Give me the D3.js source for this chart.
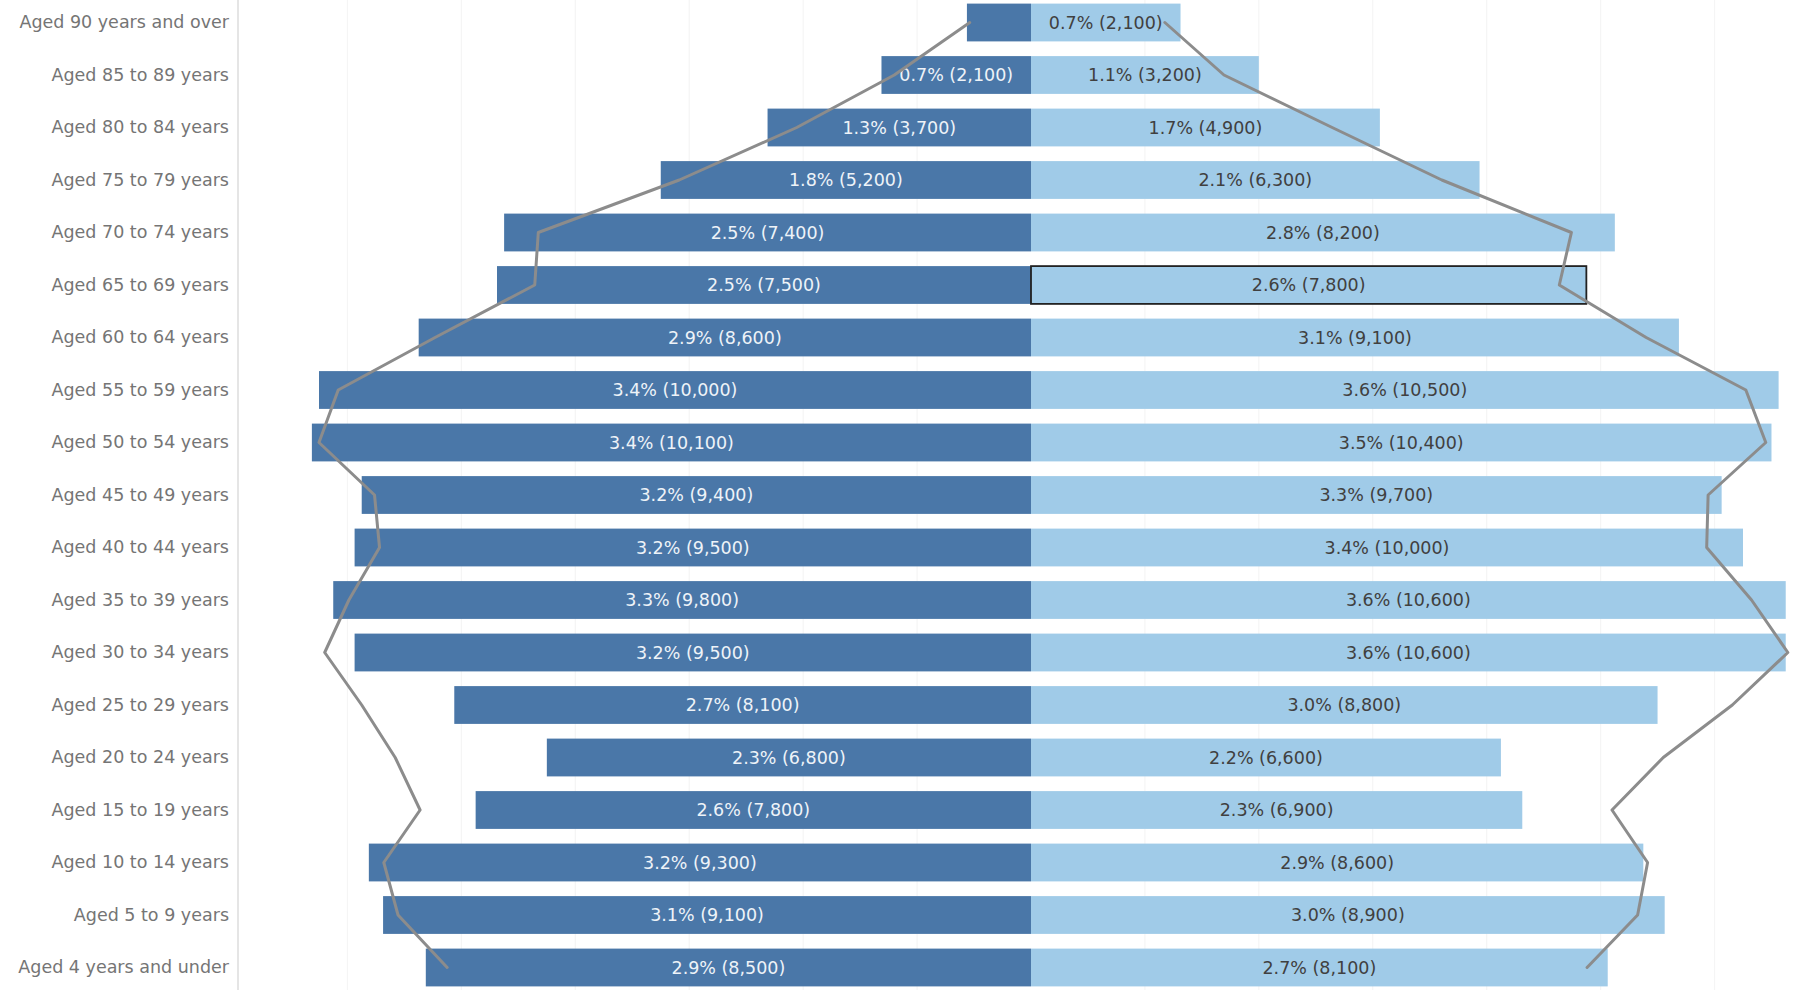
<!DOCTYPE html>
<html>
<head>
<meta charset="utf-8">
<script src="https://cdn.jsdelivr.net/npm/d3@7"></script>
<style>
  html, body { margin: 0; padding: 0; background: #ffffff; }
  svg { display: block; }
</style>
</head>
<body>
<svg id="chart" width="1806" height="990"></svg>
<script>
// ---------------- DATA ----------------
const ageGroups = [
  "Aged 90 years and over", "Aged 85 to 89 years", "Aged 80 to 84 years",
  "Aged 75 to 79 years", "Aged 70 to 74 years", "Aged 65 to 69 years",
  "Aged 60 to 64 years", "Aged 55 to 59 years", "Aged 50 to 54 years",
  "Aged 45 to 49 years", "Aged 40 to 44 years", "Aged 35 to 39 years",
  "Aged 30 to 34 years", "Aged 25 to 29 years", "Aged 20 to 24 years",
  "Aged 15 to 19 years", "Aged 10 to 14 years", "Aged 5 to 9 years",
  "Aged 4 years and under"
];
const malePct     = [0.3, 0.7, 1.3, 1.8, 2.5, 2.5, 2.9, 3.4, 3.4, 3.2, 3.2, 3.3, 3.2, 2.7, 2.3, 2.6, 3.2, 3.1, 2.9];
const maleCount   = [900, 2100, 3700, 5200, 7400, 7500, 8600, 10000, 10100, 9400, 9500, 9800, 9500, 8100, 6800, 7800, 9300, 9100, 8500];
const femalePct   = [0.7, 1.1, 1.7, 2.1, 2.8, 2.6, 3.1, 3.6, 3.5, 3.3, 3.4, 3.6, 3.6, 3.0, 2.2, 2.3, 2.9, 3.0, 2.7];
const femaleCount = [2100, 3200, 4900, 6300, 8200, 7800, 9100, 10500, 10400, 9700, 10000, 10600, 10600, 8800, 6600, 6900, 8600, 8900, 8100];
// comparison (reference population) outline
const compMale    = [860, 1920, 3290, 4940, 6920, 6970, 8370, 9730, 10000, 9220, 9150, 9580, 9920, 9400, 8930, 8580, 9090, 8890, 8200];
const compFemale  = [1880, 2710, 4230, 5770, 7590, 7420, 8640, 10040, 10320, 9510, 9490, 10120, 10630, 9850, 8880, 8160, 8660, 8520, 7810];
const gridTicks   = [1600, 3200, 4800, 6400, 8000, 9600];
const highlightGroup = "Aged 65 to 69 years";

// ---------------- LAYOUT ----------------
const W = 1806, H = 990;
const axisX = 238;
const cx = 1031;
const FONT = "'DejaVu Sans', sans-serif";

const svg = d3.select("#chart");

const y = d3.scaleBand()
  .domain(ageGroups)
  .range([-3.75, 993.75])
  .paddingInner(0.28)
  .paddingOuter(0.14);

const x = d3.scaleLinear().domain([0, 11000]).range([0, 783.2]);

const rows = ageGroups.map((g, i) => ({
  g, mPct: malePct[i], mCnt: maleCount[i], fPct: femalePct[i], fCnt: femaleCount[i],
  cm: compMale[i], cf: compFemale[i]
}));

// gridlines
const grid = svg.append("g");
const gridVals = gridTicks.flatMap(v => [cx - x(v), cx + x(v)]);
grid.selectAll("line").data(gridVals).join("line")
  .attr("x1", d => d).attr("x2", d => d)
  .attr("y1", 0).attr("y2", H)
  .attr("stroke", "#f5f5f5").attr("stroke-width", 1.2);

// bars
const fmt = d3.format(",");
const bars = svg.append("g");
bars.selectAll("rect.m").data(rows).join("rect").attr("class", "m")
  .attr("x", d => cx - x(d.mCnt)).attr("width", d => x(d.mCnt))
  .attr("y", d => y(d.g)).attr("height", y.bandwidth())
  .attr("fill", "#4a77a8");
bars.selectAll("rect.f").data(rows).join("rect").attr("class", "f")
  .attr("x", cx).attr("width", d => x(d.fCnt))
  .attr("y", d => y(d.g)).attr("height", y.bandwidth())
  .attr("fill", "#a0cbe8");

// highlight outline
const hl = rows.find(r => r.g === highlightGroup);
svg.append("rect")
  .attr("x", cx).attr("width", x(hl.fCnt))
  .attr("y", y(hl.g)).attr("height", y.bandwidth())
  .attr("fill", "none").attr("stroke", "#222").attr("stroke-width", 1.8);

// bar labels
const lbl = svg.append("g").attr("font-family", FONT).attr("font-size", 17.5);
lbl.selectAll("text.m").data(rows).join("text").attr("class", "m")
  .attr("x", d => cx - x(d.mCnt) / 2)
  .attr("y", d => y(d.g) + y.bandwidth() / 2)
  .attr("dy", "0.35em").attr("text-anchor", "middle")
  .attr("fill", "#eef3f8")
  .text(d => d.mPct.toFixed(1) + "% (" + fmt(d.mCnt) + ")")
  .each(function(d) { if (this.getComputedTextLength() > x(d.mCnt) - 6) d3.select(this).remove(); });
lbl.selectAll("text.f").data(rows).join("text").attr("class", "f")
  .attr("x", d => cx + x(d.fCnt) / 2)
  .attr("y", d => y(d.g) + y.bandwidth() / 2)
  .attr("dy", "0.35em").attr("text-anchor", "middle")
  .attr("fill", "#404040")
  .text(d => d.fPct.toFixed(1) + "% (" + fmt(d.fCnt) + ")")
  .each(function(d) { if (this.getComputedTextLength() > x(d.fCnt) - 6) d3.select(this).remove(); });

// comparison outline lines
const yc = d => y(d.g) + y.bandwidth() / 2;
const lineL = d3.line().x(d => cx - x(d.cm)).y(yc);
const lineR = d3.line().x(d => cx + x(d.cf)).y(yc);
svg.append("path").datum(rows).attr("d", lineL)
  .attr("fill", "none").attr("stroke", "#8c8c8c").attr("stroke-width", 3)
  .attr("stroke-linejoin", "round").attr("stroke-linecap", "round");
svg.append("path").datum(rows).attr("d", lineR)
  .attr("fill", "none").attr("stroke", "#8c8c8c").attr("stroke-width", 3)
  .attr("stroke-linejoin", "round").attr("stroke-linecap", "round");

// y axis
const yAxis = svg.append("g").attr("transform", `translate(${axisX},0)`)
  .call(d3.axisLeft(y).tickSize(0).tickSizeOuter(0).tickPadding(9));
yAxis.select(".domain").attr("stroke", "#d4d4d4").attr("stroke-width", 1.2)
  .attr("d", `M0,0V${H}`);
yAxis.selectAll("text").attr("font-family", FONT).attr("font-size", 17.5)
  .attr("fill", "#757575");
</script>
</body>
</html>
